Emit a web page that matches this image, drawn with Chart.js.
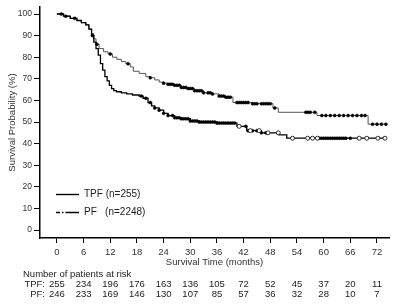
<!DOCTYPE html>
<html>
<head>
<meta charset="utf-8">
<script src="https://cdn.jsdelivr.net/npm/chart.js@4.4.1/dist/chart.umd.min.js"></script>
<style>
html,body{margin:0;padding:0;background:#fff;}
#wrap{width:400px;height:305px;position:relative;}
</style>
</head>
<body>
<div id="wrap"><canvas id="c" width="400" height="305"></canvas></div>
<script>
// ---- data ----
const xTicks = [0, 6, 12, 18, 24, 30, 36, 42, 48, 54, 60, 66, 72];
const yTicks = [0, 10, 20, 30, 40, 50, 60, 70, 80, 90, 100];

const tpfTime = [0, 1.5, 3, 4.5, 5.5, 6.5, 7.2, 7.8, 8.3, 8.8, 9.5, 10.5, 11.5, 12.5, 13.5, 14.5, 15.5, 16.5, 17.2, 18.5, 20, 21, 22, 23, 24, 25, 26.5, 28, 29.5, 31, 33, 35, 36.5, 38, 39.6, 44, 48.6, 49.8, 58.5, 70, 74];
const tpfSurv = [100, 99, 98, 97, 96, 95, 93, 91, 88.5, 86, 84, 82.5, 81.5, 80, 79, 78, 77, 75.5, 73.5, 72.5, 71, 70.5, 69.5, 68.5, 68, 67.5, 67, 66, 65.5, 64.5, 63.5, 63, 62, 61.5, 59, 58.5, 56.5, 54.5, 53, 49, 49];

const pfTime = [0, 1.5, 3, 4.5, 5.5, 6.5, 7.2, 7.8, 8.3, 8.8, 9.3, 9.8, 10.3, 10.8, 11.3, 11.8, 12.3, 12.8, 13.4, 14.5, 15.7, 17, 18.5, 19.4, 20.5, 21.3, 22, 23, 24, 25, 26.5, 28, 30, 32, 36, 40.5, 42.7, 46, 50, 51.7, 74];
const pfSurv = [100, 99, 98, 97, 96, 95, 93, 90, 87, 84, 81, 77, 74, 71, 69, 67, 65.5, 64.5, 64, 63.5, 63, 62.5, 62, 61, 59, 57.5, 56.5, 55.5, 54, 53, 52, 51.5, 50.5, 50, 49.5, 48, 46, 45, 44, 42.5, 42.5];

const tpfCensor = [1, 4, 9, 12, 16, 21, 24, 25, 25.5, 26, 26.5, 27, 27.5, 28, 28.5, 29, 29.5, 30, 30.5, 31, 31.5, 32, 32.5, 33, 34, 34.5, 35, 36.5, 37, 37.5, 38, 38.5, 39, 40.5, 41, 41.5, 42, 42.5, 43, 44, 44.5, 45, 46, 46.5, 47, 47.5, 48, 49, 56, 56.5, 57, 58, 59.6, 60.5, 61.5, 62.5, 63.5, 64.5, 65.5, 66.5, 67.5, 68.5, 69.3, 71, 72, 73, 74];
const pfCensorFilled = [2, 8, 19, 20, 21, 22, 23, 24, 25, 26, 26.5, 27, 27.5, 28, 28.5, 29, 29.5, 30, 30.5, 31, 31.5, 32, 32.5, 33, 33.5, 34, 34.5, 35, 35.5, 36, 36.5, 37, 37.5, 38, 38.5, 39, 39.5, 40, 42.5, 43, 44, 45, 46, 47, 59, 59.5, 60, 60.5, 61, 61.5, 62, 62.5, 63, 63.5, 64, 64.5, 65, 66];
const pfCensorOpen = [41, 43.5, 45.5, 47.5, 49.8, 53, 56.4, 57.5, 58.6, 68, 69.7, 72.2, 73.8];

const riskLabels = ['TPF:', 'PF:'];
const riskTPF = [255, 234, 196, 176, 163, 136, 105, 72, 52, 45, 37, 20, 11];
const riskPF = [246, 233, 169, 146, 130, 107, 85, 57, 36, 32, 28, 10, 7];

const seriesLabels = ['TPF (n=255)', 'PF   (n=2248)'];

// ---- helpers ----
function stepValue(times, surv, t) {
  let v = surv[0];
  for (let i = 0; i < times.length; i++) { if (times[i] <= t) v = surv[i]; }
  return v;
}
const pts = (ts, vs) => ts.map((t, i) => ({x: t, y: vs[i]}));
const cens = (cs, ts, vs) => cs.map(t => ({x: t, y: stepValue(ts, vs, t)}));

const FONT = 'Liberation Sans, Arial, Helvetica, sans-serif';

const overlay = {
  id: 'overlay',
  afterDraw(chart) {
    const ctx = chart.ctx;
    const xs = chart.scales.x;
    ctx.save();
    // legend
    ctx.strokeStyle = '#000';
    ctx.lineWidth = 1.4;
    ctx.beginPath(); ctx.moveTo(56, 194.5); ctx.lineTo(79, 194.5); ctx.stroke();
    ctx.setLineDash([4, 2, 1.5, 2, 20]);
    ctx.beginPath(); ctx.moveTo(56, 212.5); ctx.lineTo(79, 212.5); ctx.stroke();
    ctx.setLineDash([]);
    ctx.fillStyle = '#222';
    ctx.font = '10px ' + FONT;
    ctx.textBaseline = 'middle';
    ctx.textAlign = 'left';
    ctx.fillText(seriesLabels[0], 84, 194.5);
    ctx.fillText(seriesLabels[1], 84, 212.5);
    // risk table
    ctx.font = '9.5px ' + FONT;
    ctx.fillText('Number of patients at risk', 23, 274.5);
    ctx.textAlign = 'right';
    ctx.fillText(riskLabels[0], 45, 284.5);
    ctx.fillText(riskLabels[1], 45, 294);
    ctx.textAlign = 'center';
    xTicks.forEach((t, i) => {
      const px = xs.getPixelForValue(t);
      ctx.fillText(String(riskTPF[i]), px, 284.5);
      ctx.fillText(String(riskPF[i]), px, 294);
    });
    ctx.restore();
  }
};

new Chart(document.getElementById('c'), {
  type: 'line',
  data: {
    datasets: [
      { label: 'TPF', data: pts(tpfTime, tpfSurv), stepped: 'before', borderColor: '#555', borderWidth: 1, pointRadius: 0, fill: false, order: 3 },
      { label: 'PF', data: pts(pfTime, pfSurv), stepped: 'before', borderColor: '#000', borderWidth: 1.3, pointRadius: 0, fill: false, order: 2 },
      { type: 'scatter', label: 'TPF censored', data: cens(tpfCensor, tpfTime, tpfSurv), showLine: false, pointRadius: 1.5, pointBorderWidth: 0.5, pointBackgroundColor: '#000', pointBorderColor: '#000', order: 1 },
      { type: 'scatter', label: 'PF censored', data: cens(pfCensorFilled, pfTime, pfSurv), showLine: false, pointRadius: 1.5, pointBorderWidth: 0.5, pointBackgroundColor: '#000', pointBorderColor: '#000', order: 1 },
      { type: 'scatter', label: 'PF censored open', data: cens(pfCensorOpen, pfTime, pfSurv), showLine: false, pointRadius: 2, pointBorderWidth: 0.8, pointBackgroundColor: '#fff', pointBorderColor: '#000', order: 0 }
    ]
  },
  options: {
    responsive: false,
    animation: false,
    events: [],
    layout: { padding: { left: 0, top: 7, right: 11, bottom: 37 } },
    plugins: { legend: { display: false }, tooltip: { enabled: false } },
    scales: {
      x: {
        type: 'linear', min: -3.8, max: 74.7,
        afterBuildTicks: s => { s.ticks = xTicks.map(v => ({ value: v })); },
        afterFit: s => { s.height = 30; },
        ticks: { color: '#333', font: { size: 9.5, family: FONT }, padding: 4, autoSkip: false, maxRotation: 0 },
        grid: { drawOnChartArea: false, drawTicks: true, tickLength: 5, color: '#000', lineWidth: 1 },
        border: { color: '#000', width: 1.5 },
        title: { display: true, text: 'Survival Time (months)', color: '#333', font: { size: 9.5, family: FONT }, padding: { top: 0, bottom: 0 } }
      },
      y: {
        type: 'linear', min: -3.7, max: 103.2,
        afterBuildTicks: s => { s.ticks = yTicks.map(v => ({ value: v })); },
        afterFit: s => { s.width = 40; },
        ticks: { color: '#333', font: { size: 8.5, family: FONT }, padding: 2 },
        grid: { drawOnChartArea: false, drawTicks: true, tickLength: 6, color: '#000', lineWidth: 1 },
        border: { color: '#000', width: 1.5 },
        title: { display: true, text: 'Survival Probability (%)', color: '#333', font: { size: 9.5, family: FONT }, padding: { top: 7, bottom: 0 } }
      }
    }
  },
  plugins: [overlay]
});
</script>
</body>
</html>
